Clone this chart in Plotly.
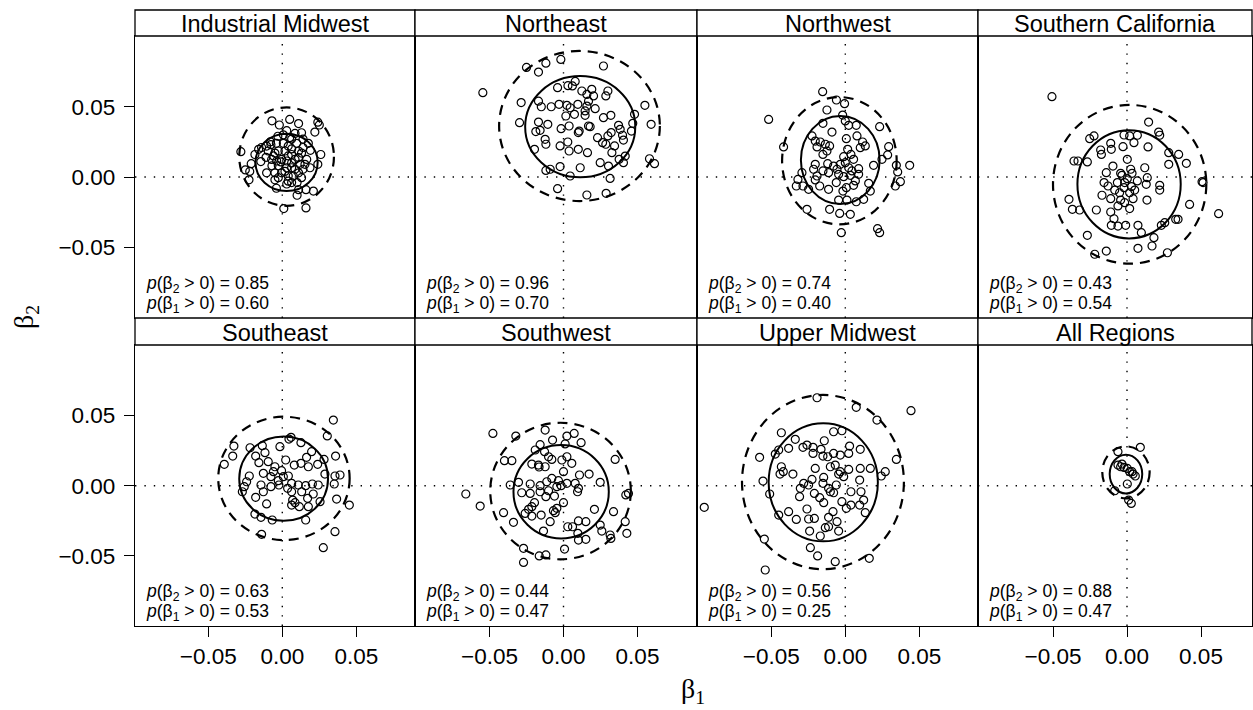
import plotly.graph_objects as go

# ---------------- data (beta1, beta2) per region ----------------
regions = ["Industrial Midwest", "Northeast", "Northwest", "Southern California",
           "Southeast", "Southwest", "Upper Midwest", "All Regions"]

p_beta2 = ["0.85", "0.96", "0.74", "0.43", "0.63", "0.44", "0.56", "0.88"]
p_beta1 = ["0.60", "0.70", "0.40", "0.54", "0.53", "0.47", "0.25", "0.47"]

industrial_midwest = [
    (-0.028, 0.018), (-0.025, 0.005), (-0.022, 0.004), (-0.0225, -0.002), (-0.021, 0.0095),
    (-0.0185, 0.016), (-0.014, 0.021), (-0.008, 0.025), (-0.007, 0.040), (-0.002, 0.037),
    (0.005, 0.041), (0.011, 0.038), (0.024, 0.039), (0.025, 0.037), (0.022, 0.032),
    (0.026, 0.016), (0.024, 0.009), (0.019, 0.019), (0.016, -0.009), (0.021, -0.010),
    (0.010, -0.013), (0.001, -0.0225), (0.016, -0.022), (-0.004, -0.008), (-0.005, -0.002),
    (0.010, -0.004), (-0.0145, 0.011), (-0.011, 0.014), (-0.006, 0.015), (-0.0077, 0.023),
    (-0.003, 0.029), (0.003, 0.033), (0.0086, 0.031), (0.014, 0.027), (0.0176, 0.024),
    (0.013, 0.017), (0.0063, 0.020), (0.0007, 0.024), (0.004, 0.015), (0.0086, 0.0125),
    (0.012, 0.009), (0.0063, 0.0066), (0.0018, 0.004), (-0.0027, 0.008), (-0.0072, 0.0125),
    (-0.0005, 0.0125), (-0.005, 0.017), (0.011, 0.003), (0.014, 0.0055), (0.004, 0.0007),
    (0.0074, 0.0007), (-0.0005, 0.003), (-0.005, 0.003), (-0.0106, 0.003), (0.0097, 0.024),
    (0.0063, 0.027), (-0.0095, 0.0185), (-0.0106, 0.022), (-0.016, 0.0197), (0.004, 0.022),
    (0.011, 0.0185), (0.0165, 0.0125), (0.0187, 0.0066), (0.0063, -0.004), (0.003, -0.005),
    (0.011, -0.009), (-0.001, 0.0107), (0.003, 0.0114), (0.0063, 0.010), (-0.007, 0.008),
    (0.0086, 0.0055), (0.0007, 0.030), (0.013, 0.0315), (0.005, 0.028), (-0.004, 0.024),
    (0.014, 0.021), (-0.0027, 0.0185), (0.0018, 0.0185), (0.0063, 0.016), (0.011, 0.0138),
    (0.0153, 0.009), (-0.0038, 0.0114), (0.003, 0.0066), (0.013, -0.0005), (-0.0027, -0.0005),
    (0.004, -0.003),
]

northeast = [
    (-0.0545, 0.060), (-0.0286, 0.053), (-0.0297, 0.0387), (-0.025, 0.078), (-0.0169, 0.0747),
    (-0.0119, 0.081), (-0.0018, 0.0837), (0.027, 0.079), (-0.0169, 0.054), (-0.015, 0.050),
    (-0.0083, 0.050), (-0.003, 0.0517), (-0.004, 0.0636), (0.003, 0.065), (0.0079, 0.068),
    (0.006, 0.0648), (0.0124, 0.0612), (0.0158, 0.0588), (0.0191, 0.0624), (0.0203, 0.0577),
    (0.0169, 0.054), (0.0158, 0.0505), (0.0214, 0.0486), (0.030, 0.0612), (0.0286, 0.0577),
    (0.0097, 0.0517), (0.0045, 0.0493), (0.0016, 0.0434), (0.0074, 0.0446), (0.0146, 0.0439),
    (0.027, 0.0422), (0.032, 0.0439), (0.048, 0.0446), (0.055, 0.051), (0.0592, 0.0375),
    (0.0468, 0.0382), (0.0459, 0.0327), (0.0372, 0.0368), (0.0383, 0.0339), (0.0399, 0.0297),
    (0.0405, 0.0263), (0.0322, 0.0316), (0.030, 0.0292), (0.0264, 0.0244), (0.0286, 0.0233),
    (0.0345, 0.0221), (0.0327, 0.0173), (0.023, 0.028), (0.0169, 0.0363), (0.018, 0.0358),
    (0.0106, 0.0327), (0.010, 0.0316), (0.0038, 0.0363), (-0.0016, 0.0344), (-0.0106, 0.0375),
    (-0.0169, 0.0391), (-0.0187, 0.0323), (-0.0158, 0.0332), (-0.0124, 0.0268), (-0.0119, 0.0233),
    (-0.0023, 0.0221), (0.0029, 0.0249), (0.0038, 0.0185), (0.010, 0.0197), (0.0162, 0.0173),
    (-0.0196, 0.0197), (0.0248, 0.0102), (0.0304, 0.0078), (0.0376, 0.0126), (0.0417, 0.0149),
    (0.0405, 0.0102), (0.0581, 0.013), (0.0615, 0.0095), (0.0113, 0.0066), (-0.0023, 0.0074),
    (-0.0119, 0.0047), (-0.009, 0.0055), (0.0045, 0.0007), (0.0315, -0.001), (-0.004, -0.0083),
    (0.0158, -0.0128), (0.0288, -0.0116), (0.0023, 0.051), (0.0146, 0.047),
]

northwest = [
    (-0.0153, 0.0607), (-0.0518, 0.041), (-0.0417, 0.0214), (-0.006, 0.0548), (-0.0005, 0.0522),
    (-0.0124, 0.0477), (-0.0018, 0.0441), (-0.0151, 0.0382), (0.0, 0.0399), (0.0023, 0.0368),
    (0.0074, 0.0368), (0.0232, 0.0358), (-0.009, 0.032), (0.0007, 0.0273), (0.0079, 0.0292),
    (0.0117, 0.0249), (0.0135, 0.0221), (0.0101, 0.0209), (-0.0225, 0.0292), (-0.0203, 0.0256),
    (-0.0169, 0.0249), (-0.0135, 0.0233), (-0.0106, 0.0221), (-0.0191, 0.0214), (-0.0124, 0.0185),
    (-0.0151, 0.0161), (0.0016, 0.0197), (0.0038, 0.0161), (-0.0011, 0.0145), (0.0056, 0.0126),
    (0.0, 0.0102), (-0.0034, 0.009), (-0.0079, 0.0078), (-0.0119, 0.0095), (-0.0203, 0.009),
    (-0.0214, 0.0055), (-0.0151, 0.0043), (-0.0056, 0.0055), (0.0023, 0.0066), (0.009, 0.0059),
    (0.0191, 0.0083), (0.0248, 0.0126), (0.0286, 0.0157), (0.0293, 0.0216), (0.0345, 0.0083),
    (0.0435, 0.0083), (0.0354, 0.0036), (0.0372, -0.0033), (0.0338, -0.0064), (0.0158, -0.0045),
    (0.0169, -0.010), (0.0068, -0.0028), (0.0034, 0.0012), (-0.0011, 0.0002), (-0.0061, -0.004),
    (-0.0016, -0.010), (0.0007, -0.0076), (0.0056, -0.0059), (0.0124, -0.0159), (0.0074, -0.0176),
    (0.0011, -0.0164), (-0.0045, -0.0164), (-0.0203, -0.0021), (-0.0173, -0.0064), (-0.0113, -0.0088),
    (-0.0248, -0.0088), (-0.0286, -0.0064), (-0.0331, -0.0064), (-0.032, -0.0017), (-0.0293, 0.0031),
    (-0.0259, -0.023), (-0.0106, -0.023), (-0.0038, -0.0259), (0.0034, -0.0266), (-0.0027, -0.0396),
    (0.0218, -0.0368), (0.0232, -0.0396), (0.0045, 0.0043), (-0.0045, 0.0019), (-0.0191, 0.0007),
    (-0.0113, 0.0031), (0.009, 0.0019),
]

southern_california = [
    (-0.0507, 0.0572), (0.0146, 0.0391), (0.0214, 0.032), (0.0221, 0.0297), (-0.0252, 0.0273),
    (-0.0223, 0.0292), (-0.002, 0.0299), (0.0018, 0.0292), (0.007, 0.0297), (0.0047, 0.0244),
    (0.0142, 0.0214), (-0.0027, 0.0216), (-0.011, 0.024), (-0.0106, 0.0197), (-0.0178, 0.0192),
    (-0.0173, 0.0161), (-0.0358, 0.0114), (-0.0331, 0.0114), (-0.0268, 0.0107), (0.0282, 0.0173),
    (0.0349, 0.0161), (0.0282, 0.009), (0.0401, 0.0097), (0.0002, 0.0126), (-0.0095, 0.0078),
    (-0.014, 0.0031), (-0.0043, 0.0026), (0.0025, 0.0055), (0.0034, 0.0026), (0.012, 0.0066),
    (0.0137, -0.0005), (0.007, -0.0028), (0.0002, -0.0012), (-0.0065, -0.004), (-0.0155, -0.004),
    (-0.0128, -0.0064), (-0.0083, -0.0093), (-0.002, -0.0076), (0.003, -0.0069), (0.0052, -0.0093),
    (-0.0169, -0.013), (-0.011, -0.0154), (-0.0043, -0.0164), (-0.0016, -0.0183), (0.0041, -0.0154),
    (0.0018, -0.0225), (0.0135, -0.0164), (0.0221, -0.0059), (0.0221, -0.0093), (0.0507, -0.0033),
    (0.0514, -0.004), (0.0423, -0.0195), (0.0619, -0.0261), (0.0345, -0.0301), (0.0329, -0.0301),
    (0.0232, -0.0344), (0.0255, -0.0325), (-0.011, -0.0249), (-0.0088, -0.0297), (-0.0106, -0.0344),
    (-0.0061, -0.0349), (-0.0009, -0.0344), (0.0074, -0.0344), (0.0097, -0.0396), (0.0182, -0.0432),
    (0.0169, -0.0491), (0.0074, -0.0508), (0.0273, -0.0539), (-0.014, -0.0527), (-0.0218, -0.055),
    (-0.0268, -0.0415), (-0.0392, -0.0159), (-0.0369, -0.023), (-0.032, -0.0235), (-0.0207, -0.0235),
    (-0.0061, -0.0206), (-0.0034, 0.0012), (-0.0016, -0.004), (-0.005, -0.0112), (0.0018, -0.0112),
    (0.013, -0.0052),
]

southeast = [
    (0.0345, 0.0467), (0.0304, 0.0354), (0.036, 0.0211), (0.039, 0.0076), (0.0356, 0.0069),
    (0.0351, 0.0012), (0.0367, -0.0095), (0.0453, -0.0138), (0.0356, -0.0327), (0.0277, -0.0441),
    (0.0158, -0.0244), (-0.0068, -0.0244), (-0.0144, -0.0225), (-0.0185, -0.0202), (-0.014, -0.0346),
    (-0.0327, 0.0282), (-0.0335, 0.0211), (-0.0392, 0.0152), (-0.0218, 0.027), (-0.0135, 0.0285),
    (-0.0016, 0.0278), (0.0045, 0.0332), (0.0059, 0.0344), (0.0126, 0.0306), (0.0198, 0.0242),
    (0.0164, 0.0202), (0.0282, 0.0187), (0.0239, 0.0152), (0.0288, 0.0083), (0.0243, 0.0005),
    (0.0203, 0.0012), (0.0158, 0.0), (0.0108, 0.0005), (0.0063, 0.0017), (0.0041, 0.0069),
    (-0.0005, 0.0107), (0.0023, 0.0183), (0.0081, 0.0147), (0.0126, 0.0159), (0.0176, 0.0135),
    (-0.0117, 0.0235), (-0.018, 0.0211), (-0.0158, 0.0164), (-0.0095, 0.0171), (-0.005, 0.0135),
    (-0.0128, 0.0088), (-0.0077, 0.0064), (-0.0027, 0.0036), (-0.0023, 0.0005), (-0.0077, -0.0007),
    (-0.0128, -0.0043), (-0.0144, 0.0005), (-0.0223, 0.0069), (-0.0241, 0.0028), (-0.027, -0.0043),
    (-0.0257, -0.0007), (-0.018, -0.0083), (-0.0106, -0.013), (0.007, -0.0102), (0.0086, -0.0121),
    (0.0063, -0.0138), (0.0115, -0.0149), (0.0176, -0.0149), (0.0171, -0.009), (0.0209, -0.0059),
    (0.0255, -0.0114), (0.0131, -0.0043), (0.0036, -0.0019), (0.0063, -0.0043), (0.0007, 0.0064),
    (-0.006, 0.010),
]

southwest = [
    (-0.0477, 0.0372), (-0.0322, 0.0353), (-0.0124, 0.0396), (0.0023, 0.0353), (0.0072, 0.0372),
    (-0.0074, 0.0325), (0.0011, 0.0297), (0.0119, 0.0306), (-0.0158, 0.0292), (-0.0191, 0.0254),
    (-0.0128, 0.0242), (-0.0101, 0.0206), (-0.0079, 0.0187), (-0.0011, 0.0183), (0.0023, 0.0206),
    (0.0056, 0.0159), (0.0349, 0.0187), (-0.0399, 0.0178), (-0.0349, 0.0178), (-0.0214, 0.0154),
    (-0.0169, 0.0147), (-0.0124, 0.0135), (-0.0165, 0.0133), (0.0, 0.010), (0.0108, 0.0076),
    (0.0173, 0.0083), (0.0248, 0.0024), (-0.0079, 0.0052), (-0.0113, 0.0028), (-0.0034, 0.0036),
    (-0.0016, 0.0), (-0.0045, -0.0007), (0.0023, 0.0017), (0.0079, 0.0017), (0.0101, -0.0019),
    (0.0095, -0.0043), (-0.036, 0.0005), (-0.0304, 0.0024), (-0.0225, 0.0012), (-0.0158, 0.0),
    (-0.0282, -0.005), (-0.0225, -0.0055), (-0.0158, -0.0043), (-0.0101, -0.0036), (-0.0119, -0.0078),
    (-0.0061, -0.0074), (0.0, -0.0121), (-0.0196, -0.0121), (-0.0214, -0.0149), (-0.0236, -0.0168),
    (-0.0259, -0.0197), (-0.0214, -0.0216), (-0.0151, -0.0209), (-0.009, -0.0256), (-0.0135, -0.0323),
    (-0.0056, -0.0192), (-0.0068, -0.0178), (-0.0045, -0.0161), (0.0209, -0.0168), (0.0338, -0.0185),
    (-0.066, -0.0059), (-0.0563, -0.0145), (-0.0405, -0.0192), (-0.0338, -0.0261), (0.0029, -0.0292),
    (0.0061, -0.0292), (0.0101, -0.0251), (0.0151, -0.0256), (0.0248, -0.028), (0.0259, -0.0323),
    (0.0315, -0.0351), (0.032, -0.0375), (0.0428, -0.0339), (0.0417, -0.0256), (0.0421, -0.0066),
    (0.0439, -0.0055), (0.0097, -0.0339), (0.0101, -0.0387), (0.0151, -0.0382), (0.0007, -0.0451),
    (-0.0119, -0.0493), (-0.0164, -0.050), (-0.027, -0.0446), (-0.027, -0.0546),
]

upper_midwest = [
    (-0.0953, -0.0154), (-0.0191, 0.0626), (0.0074, 0.0558), (0.0214, 0.0467), (0.0444, 0.0534),
    (0.0345, 0.0187), (0.027, 0.010), (0.0243, 0.0069), (-0.0579, 0.0202), (-0.0556, 0.0033),
    (-0.0511, -0.0059), (-0.045, -0.0209), (-0.0547, -0.038), (-0.0541, -0.060), (-0.0236, -0.0441),
    (-0.0187, -0.050), (-0.0068, -0.0541), (0.0162, -0.0517), (-0.0432, 0.0377), (-0.0473, 0.0225),
    (-0.045, 0.0254), (-0.0383, 0.0266), (-0.0338, 0.033), (-0.0286, 0.0273), (-0.0259, 0.0289),
    (-0.0218, 0.0273), (-0.0218, 0.023), (-0.0164, 0.0259), (-0.0142, 0.032), (-0.0079, 0.0384),
    (-0.0023, 0.0391), (-0.0151, 0.0211), (-0.0119, 0.0206), (-0.0079, 0.023), (-0.0034, 0.0218),
    (0.0023, 0.023), (0.0029, 0.0282), (0.0101, 0.0259), (-0.0101, 0.0135), (-0.0068, 0.0147),
    (-0.0034, 0.010), (-0.0045, 0.0083), (-0.0011, 0.0064), (0.0023, 0.0116), (0.0101, 0.0123),
    (0.0169, 0.0123), (0.0097, 0.004), (-0.0432, 0.0135), (-0.0419, 0.010), (-0.0441, 0.0083),
    (-0.0354, 0.0083), (-0.0203, 0.0123), (-0.0225, 0.0045), (-0.0281, 0.0017), (-0.0248, 0.0005),
    (-0.0304, -0.0019), (-0.0146, 0.0059), (-0.0151, 0.0017), (-0.0113, -0.0019), (-0.0079, -0.005),
    (-0.0101, -0.0043), (-0.0061, 0.0005), (-0.0309, -0.0078), (-0.0209, -0.0055), (-0.0173, -0.0085),
    (-0.0146, -0.0121), (-0.0023, -0.0114), (0.0038, -0.0043), (0.0106, -0.0043), (0.0124, -0.0102),
    (0.0038, -0.0138), (0.0007, -0.0161), (0.0097, -0.0138), (0.0135, -0.0192), (-0.0083, -0.0185),
    (-0.0259, -0.0166), (-0.0383, -0.0185), (-0.0331, -0.024), (-0.0248, -0.0237), (-0.0209, -0.0233),
    (-0.0113, -0.0225), (-0.0056, -0.0256), (-0.0113, -0.0292), (-0.0135, -0.0299), (-0.0045, -0.0323),
    (-0.0241, -0.0323), (-0.0169, -0.0358),
]

all_regions = [
    (-0.0061, 0.0242), (0.009, 0.0273), (-0.0061, 0.0147), (-0.0043, 0.0135), (-0.002, 0.013),
    (0.0002, 0.0123), (0.0018, 0.010), (0.0041, 0.0083), (0.0056, 0.0069), (0.0034, 0.010),
    (0.0002, 0.0012), (-0.0083, -0.0036), (0.0029, -0.0126), (0.0011, -0.0102), (-0.0034, 0.0154),
]

points = [industrial_midwest, northeast, northwest, southern_california,
          southeast, southwest, upper_midwest, all_regions]

# posterior regions: centre (b1, b2) and half-widths for the inner (solid) and outer (dashed) contours
inner_center = [(0.0029, 0.0104), (0.0113, 0.0358), (-0.0034, 0.0121), (0.0014, -0.0052),
                (0.0009, 0.0050), (-0.0016, -0.0043), (-0.0149, 0.0024), (-0.0007, 0.0083)]
inner_radius = [(0.0210, 0.0204), (0.0372, 0.0360), (0.0266, 0.0313), (0.0349, 0.0385),
                (0.0300, 0.0300), (0.0322, 0.0332), (0.0369, 0.0420), (0.0110, 0.0138)]
outer_center = [(0.0029, 0.0145), (0.0108, 0.0363), (-0.0040, 0.0116), (0.0018, -0.0052),
                (0.0011, 0.0052), (-0.0020, -0.0038), (-0.0151, 0.0026), (-0.0007, 0.0095)]
outer_radius = [(0.0320, 0.0350), (0.0543, 0.0534), (0.0387, 0.0453), (0.0518, 0.0565),
                (0.0444, 0.0439), (0.0475, 0.0486), (0.0547, 0.0620), (0.0160, 0.0185)]

tick_vals = [-0.05, 0.0, 0.05]
tick_text = ["\u22120.05", "0.00", "0.05"]

# ---------------- layout geometry (pixels) ----------------
W, H = 1253, 710
SX, SY = 1480.0, 1405.0
cols = [(135, 415, 282.3), (415, 697, 563.5), (697, 978, 845.3), (978, 1252, 1127.0)]
rows = [(36, 318, 177.0), (345, 626, 485.7)]
strips = [(10, 36), (318, 345)]

FONT = "Liberation Sans, Arial, Helvetica, sans-serif"
SERIF = "Liberation Serif, Times New Roman, serif"

def px(x):
    return x / W

def py(y):
    return (H - y) / H

fig = go.Figure()
layout = dict(width=W, height=H, margin=dict(l=0, r=0, t=0, b=0),
              paper_bgcolor="white", plot_bgcolor="white", showlegend=False,
              font=dict(family=FONT, color="black"))
shapes = []
annotations = []

for k in range(8):
    r, c = divmod(k, 4)
    sfx = "" if k == 0 else str(k + 1)
    L, R, Z = cols[c]
    T, B, ZY = rows[r]
    xa = dict(domain=[px(L), px(R)], range=[-(Z - L) / SX, (R - Z) / SX],
              anchor="y" + sfx, showgrid=False, zeroline=False, showline=True, mirror=True,
              linecolor="black", linewidth=1.3, fixedrange=True)
    ya = dict(domain=[py(B), py(T)], range=[-(B - ZY) / SY, (ZY - T) / SY],
              anchor="x" + sfx, showgrid=False, zeroline=False, showline=True, mirror=True,
              linecolor="black", linewidth=1.3, fixedrange=True)
    if r == 1:
        xa.update(ticks="outside", ticklen=10, tickwidth=1.3, tickcolor="black",
                  tickvals=tick_vals, ticktext=tick_text, showticklabels=True,
                  tickfont=dict(size=22.5, family=FONT, color="black"))
    else:
        xa.update(ticks="", showticklabels=False)
    if c == 0:
        ya.update(ticks="outside", ticklen=10, tickwidth=1.3, tickcolor="black",
                  tickvals=tick_vals, ticktext=tick_text, showticklabels=True,
                  ticklabelstandoff=4,
                  tickfont=dict(size=22.5, family=FONT, color="black"))
    else:
        ya.update(ticks="", showticklabels=False)
    layout["xaxis" + sfx] = xa
    layout["yaxis" + sfx] = ya

    pts = points[k]
    fig.add_trace(go.Scatter(
        x=[p[0] for p in pts], y=[p[1] for p in pts], mode="markers",
        marker=dict(symbol="circle-open", size=8, color="black", line=dict(width=1.2, color="black")),
        xaxis="x" + sfx, yaxis="y" + sfx, hoverinfo="skip", cliponaxis=True))

    # dotted reference lines at zero
    shapes.append(dict(type="line", xref="x" + sfx, yref="y" + sfx + " domain",
                       x0=0, x1=0, y0=0, y1=1, layer="below",
                       line=dict(color="black", width=1.4, dash="1.4px,8px")))
    shapes.append(dict(type="line", xref="x" + sfx + " domain", yref="y" + sfx,
                       x0=0, x1=1, y0=0, y1=0, layer="below",
                       line=dict(color="black", width=1.4, dash="1.4px,8px")))
    # contours
    icx, icy = inner_center[k]
    irx, iry = inner_radius[k]
    shapes.append(dict(type="circle", xref="x" + sfx, yref="y" + sfx,
                       x0=icx - irx, x1=icx + irx, y0=icy - iry, y1=icy + iry,
                       line=dict(color="black", width=2.0)))
    ocx, ocy = outer_center[k]
    orx, ory = outer_radius[k]
    shapes.append(dict(type="circle", xref="x" + sfx, yref="y" + sfx,
                       x0=ocx - orx, x1=ocx + orx, y0=ocy - ory, y1=ocy + ory,
                       line=dict(color="black", width=2.2, dash="10px,7px")))

    # strip
    sT, sB = strips[r]
    shapes.append(dict(type="rect", xref="paper", yref="paper",
                       x0=px(L), x1=px(R), y0=py(sB), y1=py(sT),
                       fillcolor="white", line=dict(color="black", width=1.3)))
    annotations.append(dict(text=regions[k], xref="paper", yref="paper",
                            x=px((L + R) / 2), y=py((sT + sB) / 2 + 1),
                            xanchor="center", yanchor="middle", showarrow=False,
                            font=dict(size=23.5, family=FONT, color="black")))
    # probability labels
    annotations.append(dict(text="<i>p</i>(\u03b2<sub>2</sub> > 0) = " + p_beta2[k],
                            xref="paper", yref="paper", x=px(L + 9), y=py(B - 34),
                            xanchor="left", yanchor="middle", showarrow=False,
                            font=dict(size=17.5, family=FONT, color="black")))
    annotations.append(dict(text="<i>p</i>(\u03b2<sub>1</sub> > 0) = " + p_beta1[k],
                            xref="paper", yref="paper", x=px(L + 9), y=py(B - 14),
                            xanchor="left", yanchor="middle", showarrow=False,
                            font=dict(size=17.5, family=FONT, color="black")))

# axis titles
annotations.append(dict(text="\u03b2<sub>1</sub>", xref="paper", yref="paper",
                        x=px(693), y=py(690), xanchor="center", yanchor="middle",
                        showarrow=False, font=dict(size=28, family=SERIF, color="black")))
annotations.append(dict(text="\u03b2<sub>2</sub>", xref="paper", yref="paper",
                        x=px(25), y=py(317), xanchor="center", yanchor="middle",
                        textangle=-90, showarrow=False,
                        font=dict(size=28, family=SERIF, color="black")))

layout["shapes"] = shapes
layout["annotations"] = annotations
fig.update_layout(**layout)
fig.write_html("out.html")
